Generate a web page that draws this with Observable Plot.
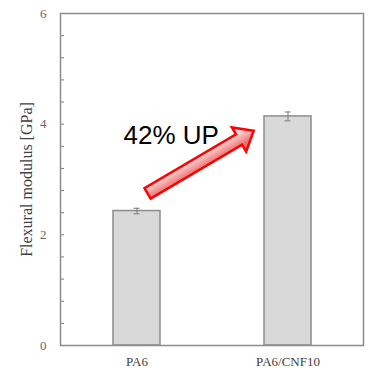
<!DOCTYPE html>
<html><head><meta charset="utf-8">
<script src="https://cdn.jsdelivr.net/npm/d3@7"></script>
<script src="https://cdn.jsdelivr.net/npm/@observablehq/plot@0.6"></script>
<style>html,body{margin:0;padding:0;background:#fff} svg{display:block}</style>
</head><body><div id="chart"></div>
<script>
// ---- data ----
const categories = ["PA6", "PA6/CNF10"];
const modulus = [2.43, 4.14];          // GPa
const modulusError = [0.05, 0.08];     // GPa (± error bar)
const yTickValues = [0, 2, 4, 6];
const yMinorTickValues = [0.4, 0.8, 1.2, 1.6, 2.0, 2.4, 2.8, 3.2, 3.6, 4.0, 4.4, 4.8, 5.2, 5.6];
const yLabel = "Flexural modulus [GPa]";
const annotationText = "42% UP";
const annotationValue = 3.80;
const arrowFrom = {category: "PA6", shift: 0.073, value: 2.74};
const arrowTo = {category: "PA6/CNF10", shift: -0.224, value: 3.87};

const data = categories.map((c, i) => ({category: c, value: modulus[i], err: modulusError[i]}));

const W = 368, H = 368, ML = 60, MR = 5, MT = 13, MB = 23;

const chart = Plot.plot({
  width: W, height: H,
  marginLeft: ML, marginRight: MR, marginTop: MT, marginBottom: MB,
  style: {fontFamily: "'Liberation Serif', 'Times New Roman', serif", background: "white", overflow: "visible"},
  x: {domain: categories, paddingInner: 0.69, paddingOuter: 0.345, label: null},
  y: {domain: [0, 6], label: null},
  marks: [
    Plot.barY(data, {x: "category", y: "value", fill: "#d9d9d9", stroke: "#8c8c8c", strokeWidth: 1.5}),
    Plot.ruleX(data, {x: "category", y1: d => d.value - d.err, y2: d => d.value + d.err, stroke: "#7a7a7a", strokeWidth: 1}),
    Plot.tickY(data, {x: "category", y: d => d.value + d.err, insetLeft: 20.5, insetRight: 20.5, stroke: "#7a7a7a", strokeWidth: 1}),
    Plot.tickY(data, {x: "category", y: d => d.value - d.err, insetLeft: 20.5, insetRight: 20.5, stroke: "#7a7a7a", strokeWidth: 1}),
    Plot.ruleY(yMinorTickValues, {y: d => d, insetRight: W - ML - MR - 4, stroke: "#7a7a7a", strokeWidth: 1}),
    Plot.frame({stroke: "#8c8c8c", strokeWidth: 1.5}),
    Plot.axisY({ticks: yTickValues, tickFormat: d3.format("d"), tickSize: 0, tickPadding: 14, fontSize: 13, fill: "#666", label: null}),
    Plot.axisX({tickSize: 0, tickPadding: 11, fontSize: 13, fill: "#404040", label: null}),
    Plot.text([yLabel], {frameAnchor: "left", textAnchor: "middle", rotate: -90, dx: -34, fontSize: 16, fill: "#404040", text: d => d}),
    Plot.text([annotationText], {x: [arrowFrom.category], y: [annotationValue], dx: -13.5, textAnchor: "start",
      fontFamily: "'Liberation Sans', Arial, sans-serif", fontSize: 26, fill: "#000", text: d => d})
  ]
});

// ---- block arrow annotation, positioned through the plot's scales ----
const sx = chart.scale("x"), sy = chart.scale("y");
const step = sx.step ?? sx.bandwidth / (1 - 0.69);
const cx = c => sx.apply(c) + sx.bandwidth / 2;
const p0 = [cx(arrowFrom.category) + arrowFrom.shift * step, sy.apply(arrowFrom.value)];
const p1 = [cx(arrowTo.category) + arrowTo.shift * step, sy.apply(arrowTo.value)];
const dxv = p1[0] - p0[0], dyv = p1[1] - p0[1];
const L = Math.hypot(dxv, dyv);
const u = [dxv / L, dyv / L], n = [-u[1], u[0]];
const hw = 6, headHW = 14, headLen = 17;
const neck = [p1[0] - u[0] * headLen, p1[1] - u[1] * headLen];
const pt = (b, k) => [b[0] + n[0] * k, b[1] + n[1] * k];
const poly = [pt(p0, hw), pt(neck, hw), pt(neck, headHW), p1, pt(neck, -headHW), pt(neck, -hw), pt(p0, -hw)];
const svg = d3.select(chart);
const defs = svg.append("defs");
const mid = [(p0[0] + p1[0]) / 2, (p0[1] + p1[1]) / 2];
const g1 = pt(mid, -hw), g2 = pt(mid, hw);
const grad = defs.append("linearGradient").attr("id", "arrowGrad").attr("gradientUnits", "userSpaceOnUse")
  .attr("x1", g1[0]).attr("y1", g1[1]).attr("x2", g2[0]).attr("y2", g2[1]);
grad.append("stop").attr("offset", "0%").attr("stop-color", "#fcd6d6");
grad.append("stop").attr("offset", "100%").attr("stop-color", "#ef7272");
svg.append("path")
  .attr("d", "M" + poly.map(p => p.join(",")).join("L") + "Z")
  .attr("fill", "url(#arrowGrad)").attr("stroke", "#ff0000").attr("stroke-width", 2.5)
  .attr("stroke-linejoin", "miter");

document.getElementById("chart").appendChild(chart);
</script>
</body></html>
